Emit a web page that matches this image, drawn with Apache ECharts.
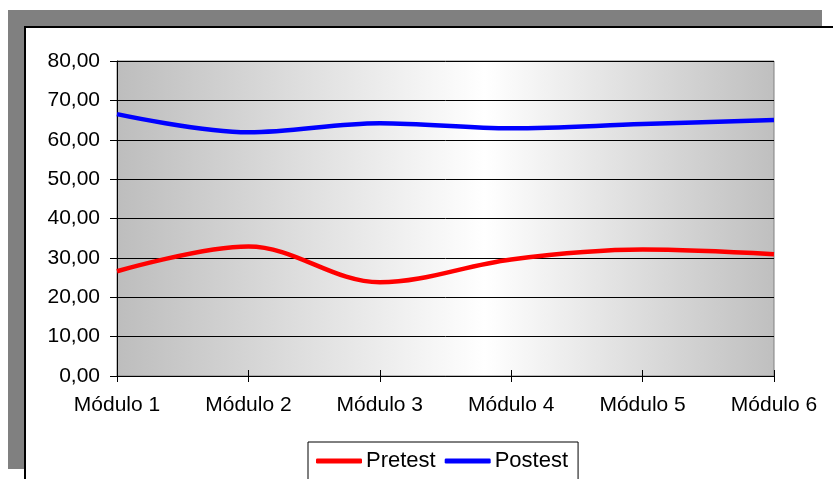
<!DOCTYPE html>
<html>
<head>
<meta charset="utf-8">
<script src="https://cdn.jsdelivr.net/npm/echarts@6/dist/echarts.min.js"></script>
<style>
  html, body { margin: 0; padding: 0; background: #fff; }
  #chart { width: 833px; height: 479px; }
</style>
</head>
<body>
<div id="chart"></div>
<script>
const categories = ['Módulo 1', 'Módulo 2', 'Módulo 3', 'Módulo 4', 'Módulo 5', 'Módulo 6']
const pretest = [26.6, 32.9, 23.8, 29.6, 32.1, 30.9]
const postest = [66.5, 61.9, 64.2, 62.9, 64.0, 65.0]

const chart = echarts.init(document.getElementById('chart'), null, { renderer: 'canvas' })

const option = {
  animation: false,
  textStyle: { fontFamily: 'Liberation Sans, Arial, sans-serif' },
  graphic: [
    // sombra gris del marco
    { type: 'rect', z: -10, shape: { x: 8, y: 10, width: 814, height: 459 }, style: { fill: '#808080' } },
    { type: 'rect', z: -9, shape: { x: 25, y: 27, width: 820, height: 460 }, style: { fill: '#fff', stroke: '#000', lineWidth: 2 } }
  ],
  grid: {
    left: 117,
    top: 61,
    right: 59,
    bottom: 103,
    show: true,
    borderColor: '#808080',
    borderWidth: 1,
    backgroundColor: {
      type: 'linear', x: 0, y: 0, x2: 1, y2: 0,
      colorStops: [
        { offset: 0, color: '#bdbdbd' },
        { offset: 0.56, color: '#ffffff' },
        { offset: 1, color: '#bfbfbf' }
      ]
    }
  },
  legend: {
    top: 442,
    left: 308,
    padding: [8, 10, 20, 8],
    itemGap: 9,
    borderColor: '#000',
    borderWidth: 1,
    backgroundColor: '#fff',
    itemWidth: 46,
    itemHeight: 5,
    icon: 'roundRect',
    textStyle: { fontSize: 22, color: '#000', padding: [0, 0, 0, -1] },
    data: ['Pretest', 'Postest']
  },
  xAxis: [
    {
      type: 'category',
      data: categories,
      boundaryGap: false,
      axisLine: { lineStyle: { color: '#000', width: 1 } },
      axisTick: { show: true, length: 6, inside: false, lineStyle: { color: '#000' } },
      axisLabel: { color: '#000', fontSize: 21, margin: 19 },
      splitLine: { show: false }
    },
    {
      // marcas hacia dentro, para que crucen el eje
      type: 'category',
      data: categories,
      position: 'bottom',
      boundaryGap: false,
      axisLine: { show: false },
      axisTick: { show: true, length: 6, inside: true, lineStyle: { color: '#000' } },
      axisLabel: { show: false },
      splitLine: { show: false }
    }
  ],
  yAxis: {
    type: 'value',
    min: 0,
    max: 80,
    interval: 10,
    axisLine: { show: true, lineStyle: { color: '#000', width: 1 } },
    axisTick: { show: true, length: 7, lineStyle: { color: '#000' } },
    axisLabel: {
      color: '#000',
      fontSize: 21,
      margin: 17,
      formatter: v => v.toFixed(2).replace('.', ',')
    },
    splitLine: { show: true, lineStyle: { color: '#000', width: 1 } }
  },
  series: [
    {
      name: 'Pretest',
      type: 'line',
      data: pretest,
      smooth: 0.35,
      symbol: 'none',
      itemStyle: { color: '#ff0000' },
      lineStyle: { color: '#ff0000', width: 4.5 }
    },
    {
      name: 'Postest',
      type: 'line',
      data: postest,
      smooth: 0.35,
      symbol: 'none',
      itemStyle: { color: '#0000ff' },
      lineStyle: { color: '#0000ff', width: 4.5 }
    }
  ]
}

chart.setOption(option)
</script>
</body>
</html>
